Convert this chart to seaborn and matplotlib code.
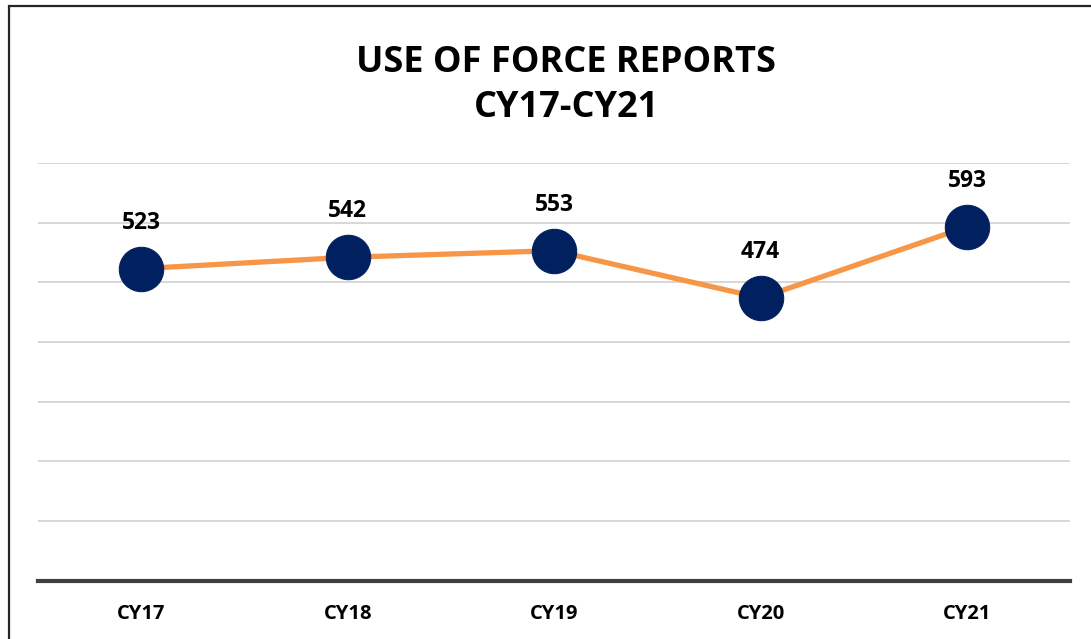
import numpy as np
import pandas as pd
import seaborn as sns
import matplotlib.pyplot as plt
from matplotlib.patches import Rectangle

years = ['CY17', 'CY18', 'CY19', 'CY20', 'CY21']
reports = [523, 542, 553, 474, 593]

df = pd.DataFrame({'year': years, 'reports': reports})

sns.set_theme(style='white')
plt.rcParams['font.family'] = ['Open Sans', 'DejaVu Sans']

fig = plt.figure(figsize=(10.91, 6.39), dpi=100)
ax = fig.add_axes([0.035, 0.091, 0.946, 0.654])

ax = sns.lineplot(data=df, x='year', y='reports', ax=ax, color='#F79646', lw=3.8,
                  marker='o', markersize=32, markerfacecolor='#002060',
                  markeredgecolor='#002060', zorder=3)

# data labels
for i, v in enumerate(reports):
    ax.annotate(str(v), (i, v), xytext=(0, 24.5), textcoords='offset points',
                ha='center', va='bottom', fontsize=16.5, fontweight='bold', color='black')

ax.set_ylim(0, 700)
ax.set_xlim(-0.5, 4.5)
ax.set_yticks(np.arange(100, 701, 100))
ax.yaxis.grid(True, color='#D4D4D4', lw=1.3)
ax.set_yticklabels([])
ax.tick_params(axis='y', length=0)
ax.set_xticks(range(len(years)), years, fontsize=14.5, fontweight='bold', color='black')
ax.tick_params(axis='x', length=0, pad=17)
ax.set_xlabel('')
ax.set_ylabel('')
for s in ['top', 'right', 'left']:
    ax.spines[s].set_visible(False)
ax.spines['bottom'].set_color('#404040')
ax.spines['bottom'].set_linewidth(3)

fig.text(0.519, 0.866, 'USE OF FORCE REPORTS\nCY17-CY21', ha='center', va='center',
         fontsize=26, fontweight='bold', linespacing=1.35, color='black')

# outer frame
fig.patches.append(Rectangle((9 / 1091, -0.05), 1.2, 1.05 - 6 / 639, transform=fig.transFigure,
                             fill=False, edgecolor='#262626', lw=1.6, clip_on=False))

fig.savefig('out.png', dpi=100)
